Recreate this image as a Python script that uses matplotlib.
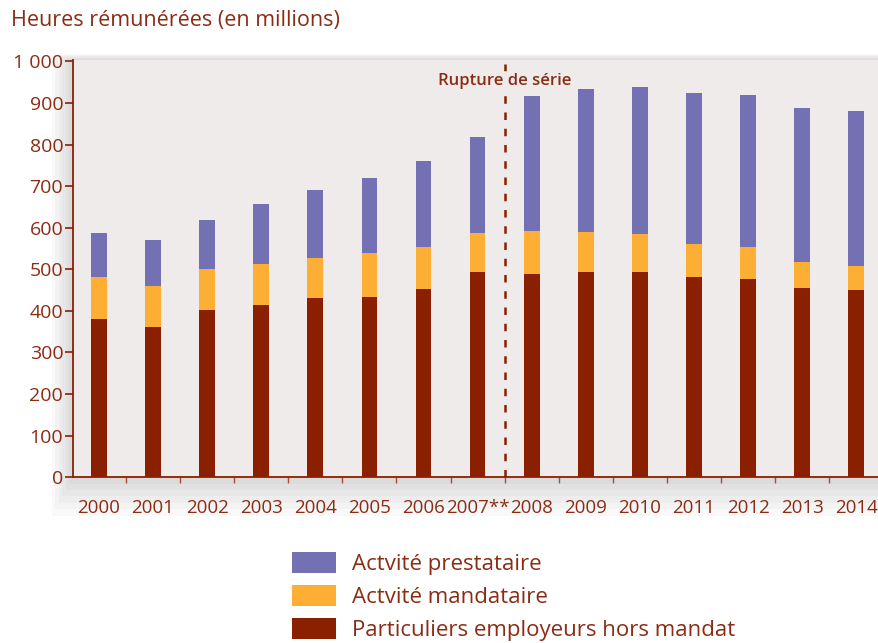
import numpy as np
import matplotlib
matplotlib.use('Agg')
import matplotlib.pyplot as plt
from matplotlib.patches import Rectangle

# Data (millions of paid hours)
years = ['2000', '2001', '2002', '2003', '2004', '2005', '2006', '2007**',
         '2008', '2009', '2010', '2011', '2012', '2013', '2014']
particuliers = [380, 362, 403, 414, 432, 434, 452, 493, 489, 493, 493, 481, 477, 455, 449]
mandataire = [101, 98, 98, 99, 94, 104, 101, 94, 104, 97, 92, 81, 76, 63, 58]
prestataire = [106, 110, 118, 143, 164, 182, 207, 231, 323, 343, 354, 363, 367, 369, 374]

labels = ['Actvité prestataire', 'Actvité mandataire', 'Particuliers employeurs hors mandat']

COL_DARK = '#8a2000'
COL_ORANGE = '#fdae35'
COL_PURPLE = '#7370b4'
TEXT_COLOR = '#8b2c14'
BG = '#efebea'

plt.rcParams['font.family'] = ['Open Sans', 'DejaVu Sans']

fig = plt.figure(figsize=(8.79, 6.43), dpi=100)
ax = fig.add_axes([0.083, 0.258, 0.917, 0.649])
ax.set_zorder(2)

# soft shadow behind the plot area
for i in range(6):
    pad = (i + 1) * 0.005
    fig.patches.append(Rectangle((0.083 - pad * 0.8, 0.258 - pad * 2.0), 0.917 + pad * 2, 0.649 + pad * 2.3,
                                 transform=fig.transFigure, facecolor='black', alpha=0.025,
                                 edgecolor='none', zorder=0))

ax.set_facecolor(BG)
x = np.arange(len(years))
w = 0.29
b1 = ax.bar(x, particuliers, w, color=COL_DARK, zorder=3)
b2 = ax.bar(x, mandataire, w, bottom=particuliers, color=COL_ORANGE, zorder=3)
bottom3 = np.array(particuliers) + np.array(mandataire)
b3 = ax.bar(x, prestataire, w, bottom=bottom3, color=COL_PURPLE, zorder=3)

# series break
ax.axvline(7.5, ymin=0, ymax=0.99, color=COL_DARK, linestyle=(0, (3, 3.5)), linewidth=1.8, zorder=2)
ax.text(7.5, 953, 'Rupture de série', ha='center', va='center', fontsize=12, color=TEXT_COLOR,
        fontweight='semibold', bbox=dict(facecolor=BG, edgecolor='none', pad=1), zorder=4)

ax.set_xlim(-0.48, 14.42)
ax.set_ylim(0, 1004)

ax.set_yticks(np.arange(0, 1001, 100))
ax.set_yticklabels(['1 000' if v == 1000 else str(v) for v in range(0, 1001, 100)])
ax.tick_params(axis='y', colors=COL_DARK, labelcolor=TEXT_COLOR, labelsize=14, length=6, width=1.2, pad=1)

ax.set_xticks(x)
ax.set_xticklabels(years)
ax.tick_params(axis='x', length=0, labelsize=13.5, labelcolor=TEXT_COLOR, pad=16)
ax.set_xticks(np.arange(0.5, 14, 1), minor=True)
ax.tick_params(axis='x', which='minor', length=4, width=1, color='#a0503a')

for s in ['top', 'right']:
    ax.spines[s].set_visible(False)
for s in ['left', 'bottom']:
    ax.spines[s].set_color(COL_DARK)
    ax.spines[s].set_linewidth(1.3)

fig.text(0.012, 0.968, 'Heures rémunérées (en millions)', fontsize=15.5, color=TEXT_COLOR,
         ha='left', va='center')

fig.legend([b3, b2, b1], labels, loc='upper left', bbox_to_anchor=(0.332, 0.142),
           frameon=False, fontsize=16, labelcolor=TEXT_COLOR, handlelength=2.0,
           handleheight=1.1, labelspacing=0.45, handletextpad=0.72, borderpad=0, borderaxespad=0)

fig.savefig('out.png', dpi=100, facecolor='white')
